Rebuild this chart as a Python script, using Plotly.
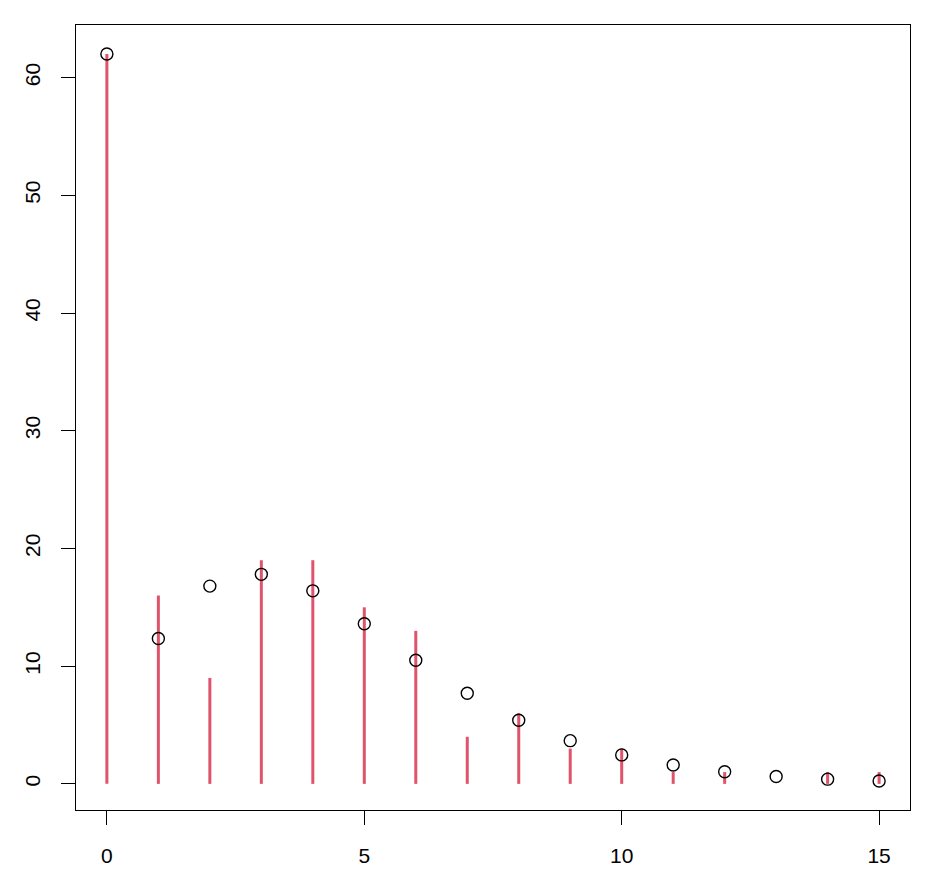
import plotly.graph_objects as go

counts = [0, 1, 2, 3, 4, 5, 6, 7, 8, 9, 10, 11, 12, 13, 14, 15]
observed = [62, 16, 9, 19, 19, 15, 13, 4, 6, 3, 3, 1, 1, 0, 1, 1]
fitted = [62.0, 12.35, 16.8, 17.8, 16.4, 13.6, 10.5, 7.7, 5.4, 3.67, 2.46, 1.6, 1.03, 0.62, 0.4, 0.25]
x_ticks = [0, 5, 10, 15]
y_ticks = [0, 10, 20, 30, 40, 50, 60]

# build vertical "h"-type lines from data
lx, ly = [], []
for c, v in zip(counts, observed):
    lx += [c, c, None]
    ly += [0, v, None]

fig = go.Figure()
fig.add_trace(go.Scatter(x=lx, y=ly, mode="lines",
                         line=dict(color="#DF536B", width=3), hoverinfo="skip"))
fig.add_trace(go.Scatter(x=counts, y=fitted, mode="markers",
                         marker=dict(symbol="circle-open", size=12, color="black",
                                     line=dict(width=1.4, color="black"))))

# R-style 4% axis extension (y range taken from the plotted points)
xspan = max(counts) - min(counts)
xr = [min(counts) - 0.04 * xspan, max(counts) + 0.04 * xspan]
ymin, ymax = min(fitted), max(fitted)
yspan = ymax - ymin
yr = [ymin - 0.04 * yspan, ymax + 0.04 * yspan]

axis_common = dict(showgrid=False, zeroline=False, showline=True, mirror=True,
                   linecolor="black", linewidth=1, ticks="outside", ticklen=14,
                   tickwidth=1, tickcolor="black", automargin=False,
                   tickfont=dict(family="Liberation Sans, Arial", size=21, color="black"))
fig.update_xaxes(range=xr, tickvals=x_ticks, ticktext=[str(t) for t in x_ticks],
                 ticklabelstandoff=13, **axis_common)
fig.update_yaxes(range=yr, tickvals=y_ticks, ticktext=[str(t) for t in y_ticks], tickangle=-90,
                 ticklabelstandoff=13, **axis_common)

# page body adds an 8px margin; compensate so the plot box lands where the reference has it
fig.update_layout(width=931, height=885, showlegend=False,
                  plot_bgcolor="white", paper_bgcolor="white",
                  margin=dict(l=68, r=29, t=17, b=83))
fig.write_html("out.html")
